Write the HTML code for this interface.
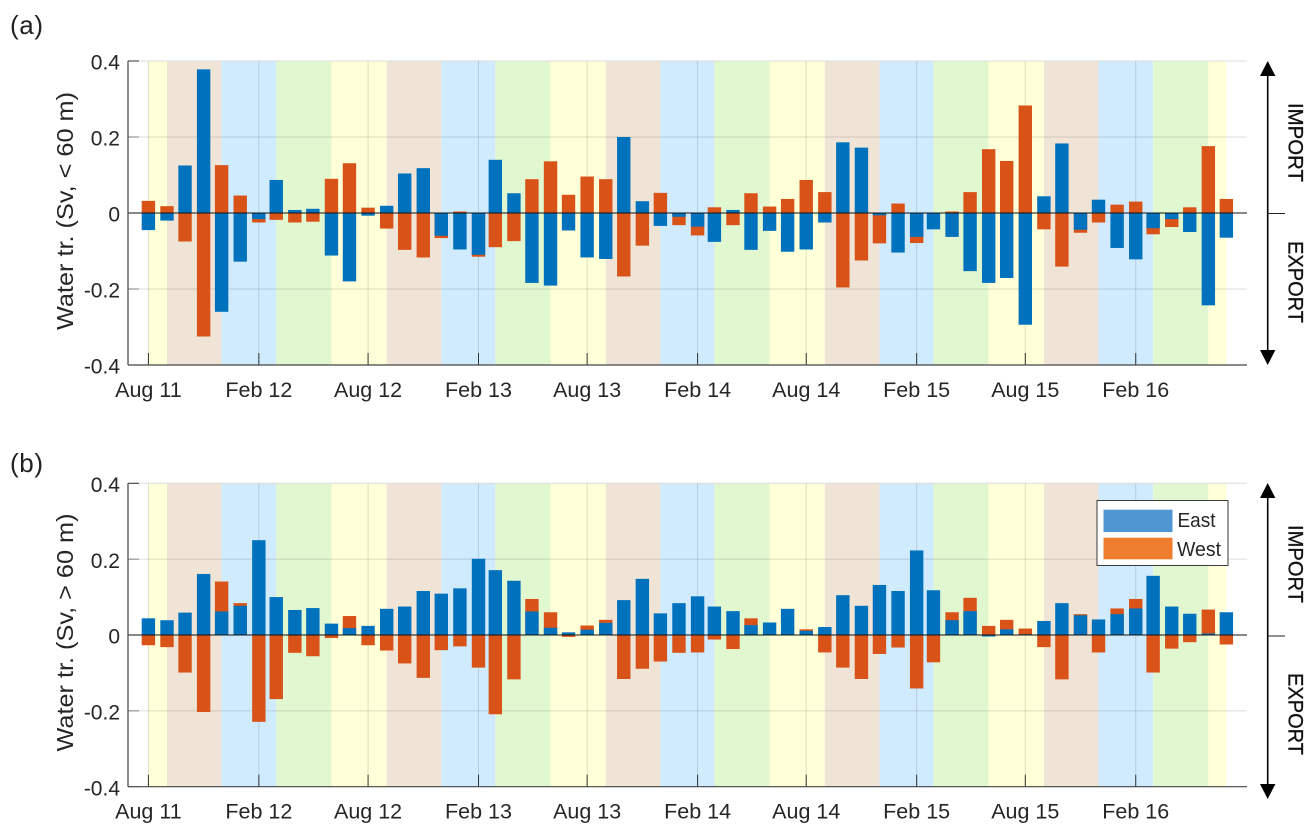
<!DOCTYPE html>
<html lang="en">
<head>
<meta charset="utf-8">
<title>Water transport, east and west</title>
<style>
html,body{margin:0;padding:0;background:#fff;}
svg{display:block;font-family:"Liberation Sans",sans-serif;}
text{fill:#262626;}
.tick{font-size:21px;}
.xtick{font-size:21.5px;}
.ytitle{font-size:23px;}
.side{font-size:21px;fill:#111;stroke:#111;stroke-width:.3px;}
.panel-tag{font-size:26px;fill:#222;}
.s-summer{fill:#FFFFD8;}
.s-autumn{fill:#EFE4D6;}
.s-winter{fill:#D0EAFE;}
.s-spring{fill:#E1F7CF;}
.east{fill:#0072BD;}
.west{fill:#D95319;}
</style>
</head>
<body>
<svg id="figure" xmlns="http://www.w3.org/2000/svg" width="1316" height="837" viewBox="0 0 1316 837">
  <rect x="0" y="0" width="1316" height="837" fill="#fff"/>

  <g id="panel-a"></g>
  <g id="panel-b"></g>

  <text class="panel-tag" x="10" y="34" textLength="33">(a)</text>
  <text class="panel-tag" x="10" y="472" textLength="33">(b)</text>

  <text class="ytitle" transform="translate(73,211) rotate(-90)" text-anchor="middle" textLength="238" lengthAdjust="spacingAndGlyphs">Water tr. (Sv, &lt; 60 m)</text>
  <text class="ytitle" transform="translate(73,632.5) rotate(-90)" text-anchor="middle" textLength="238" lengthAdjust="spacingAndGlyphs">Water tr. (Sv, &gt; 60 m)</text>

  <g>
    <line x1="1267.7" y1="70" x2="1267.7" y2="356" stroke="#000" stroke-width="1.6"/>
    <polygon points="1267.7,61 1260,76 1275.4,76" fill="#000"/>
    <polygon points="1267.7,365 1260,350 1275.4,350" fill="#000"/>
    <line x1="1267.7" y1="213.5" x2="1285" y2="213.5" stroke="#222" stroke-width="1"/>
    <text class="side" transform="translate(1288.5,103) rotate(90)" textLength="79" lengthAdjust="spacingAndGlyphs">IMPORT</text>
    <text class="side" transform="translate(1288.5,241) rotate(90)" textLength="82" lengthAdjust="spacingAndGlyphs">EXPORT</text>
  </g>

  <g>
    <line x1="1267.7" y1="492" x2="1267.7" y2="790" stroke="#000" stroke-width="1.6"/>
    <polygon points="1267.7,483 1260,498 1275.4,498" fill="#000"/>
    <polygon points="1267.7,799 1260,784 1275.4,784" fill="#000"/>
    <line x1="1267.7" y1="636" x2="1285" y2="636" stroke="#222" stroke-width="1"/>
    <text class="side" transform="translate(1288.5,525) rotate(90)" textLength="78" lengthAdjust="spacingAndGlyphs">IMPORT</text>
    <text class="side" transform="translate(1288.5,673) rotate(90)" textLength="82" lengthAdjust="spacingAndGlyphs">EXPORT</text>
  </g>

  <g>
    <rect x="1097" y="500.5" width="131" height="65" fill="#fff" stroke="#3a3a3a" stroke-width="1"/>
    <rect x="1103.5" y="509.7" width="69" height="22.3" fill="#4F97D3"/>
    <text x="1177.5" y="527" style="font-size:20.5px" textLength="38" lengthAdjust="spacingAndGlyphs">East</text>
    <rect x="1103.5" y="537.7" width="69" height="21.6" fill="#EF7D2E"/>
    <text x="1177" y="556" style="font-size:20.5px" textLength="44" lengthAdjust="spacingAndGlyphs">West</text>
  </g>
</svg>

<script>
const categories = [
  '2011-08','2011-09','2011-10','2011-11','2011-12','2012-01','2012-02','2012-03','2012-04','2012-05','2012-06','2012-07',
  '2012-08','2012-09','2012-10','2012-11','2012-12','2013-01','2013-02','2013-03','2013-04','2013-05','2013-06','2013-07',
  '2013-08','2013-09','2013-10','2013-11','2013-12','2014-01','2014-02','2014-03','2014-04','2014-05','2014-06','2014-07',
  '2014-08','2014-09','2014-10','2014-11','2014-12','2015-01','2015-02','2015-03','2015-04','2015-05','2015-06','2015-07',
  '2015-08','2015-09','2015-10','2015-11','2015-12','2016-01','2016-02','2016-03','2016-04','2016-05','2016-06','2016-07'
];
const eastShallow = [
  -0.045,-0.020,0.125,0.378,-0.260,-0.128,-0.016,0.087,0.008,0.011,-0.112,-0.180,
  -0.007,0.019,0.104,0.118,-0.060,-0.096,-0.110,0.140,0.052,-0.184,-0.191,-0.046,
  -0.117,-0.121,0.200,0.031,-0.034,-0.010,-0.036,-0.076,0.008,-0.097,-0.047,-0.102,
  -0.096,-0.025,0.186,0.172,-0.006,-0.104,-0.063,-0.043,-0.063,-0.153,-0.184,-0.171,
  -0.294,0.044,0.183,-0.044,0.035,-0.092,-0.122,-0.040,-0.016,-0.050,-0.243,-0.065
];
const westShallow = [
  0.032,0.018,-0.075,-0.325,0.126,0.046,-0.025,-0.018,-0.025,-0.023,0.090,0.131,
  0.014,-0.041,-0.097,-0.117,-0.066,0.004,-0.115,-0.090,-0.074,0.089,0.136,0.048,
  0.096,0.089,-0.167,-0.086,0.053,-0.032,-0.059,0.015,-0.032,0.052,0.017,0.037,
  0.087,0.055,-0.196,-0.125,-0.080,0.025,-0.079,0,0.004,0.055,0.168,0.137,
  0.283,-0.043,-0.141,-0.052,-0.025,0.022,0.030,-0.056,-0.037,0.015,0.176,0.037
];
const eastDeep = [
  0.044,0.039,0.059,0.161,0.062,0.077,0.250,0.100,0.066,0.071,0.030,0.018,
  0.024,0.069,0.075,0.116,0.109,0.123,0.201,0.171,0.143,0.062,0.019,0.007,
  0.014,0.032,0.092,0.148,0.057,0.084,0.102,0.075,0.063,0.026,0.033,0.069,
  0.011,0.021,0.105,0.077,0.132,0.116,0.223,0.118,0.039,0.063,-0.004,0.015,
  0.002,0.037,0.084,0.052,0.041,0.055,0.070,0.156,0.075,0.056,0.004,0.060
];
const westDeep = [
  -0.027,-0.032,-0.099,-0.203,0.141,0.084,-0.229,-0.169,-0.047,-0.056,-0.008,0.050,
  -0.027,-0.041,-0.075,-0.113,-0.040,-0.030,-0.086,-0.209,-0.117,0.095,0.060,-0.005,
  0.025,0.040,-0.116,-0.089,-0.070,-0.047,-0.046,-0.012,-0.037,0.044,0,0,
  0.015,-0.046,-0.086,-0.116,-0.050,-0.033,-0.141,-0.072,0.060,0.098,0.024,0.040,
  0.017,-0.032,-0.117,0.055,-0.046,0.070,0.095,-0.099,-0.036,-0.019,0.067,-0.025
];
const seasonEdges = [
  '2011-08','2011-09','2011-12','2012-03','2012-06','2012-09','2012-12','2013-03','2013-06','2013-09','2013-12',
  '2014-03','2014-06','2014-09','2014-12','2015-03','2015-06','2015-09','2015-12','2016-03','2016-06','2016-07'
];
const seasonKinds = [
  'summer','autumn','winter','spring','summer','autumn','winter','spring','summer','autumn','winter',
  'spring','summer','autumn','winter','spring','summer','autumn','winter','spring','summer'
];
const xTickDates = ['2011-08','2012-02','2012-08','2013-02','2013-08','2014-02','2014-08','2015-02','2015-08','2016-02'];
const xTickLabels = ['Aug 11','Feb 12','Aug 12','Feb 13','Aug 13','Feb 14','Aug 14','Feb 15','Aug 15','Feb 16'];
const yTickValues = [0.4,0.2,0,-0.2,-0.4];
const yTickLabels = ['0.4','0.2','0','-0.2','-0.4'];

const NS = 'http://www.w3.org/2000/svg';
const DAY = 86400000;
const PLOT_LEFT = 128;
const PLOT_RIGHT = 1247;
const BAR_W = 13.4;
const ORIGIN_X = 148.4;
const PX_PER_DAY = 0.6002;

function xOf(month) {
  const parts = month.split('-');
  const days = (Date.UTC(+parts[0], +parts[1] - 1, 1) - Date.UTC(2011, 7, 1)) / DAY;
  return ORIGIN_X + days * PX_PER_DAY;
}
function yScale(top, bottom) {
  return function (v) { return top + (0.4 - v) / 0.8 * (bottom - top); };
}
function make(tag, attrs, parent) {
  const el = document.createElementNS(NS, tag);
  for (const k in attrs) el.setAttribute(k, attrs[k]);
  parent.appendChild(el);
  return el;
}

function drawPanel(id, top, bottom, east, west) {
  const g = document.getElementById(id);
  const y = yScale(top, bottom);

  seasonKinds.forEach(function (kind, i) {
    const x0 = xOf(seasonEdges[i]);
    const x1 = xOf(seasonEdges[i + 1]);
    const r = make('rect', { x: x0, y: top, width: x1 - x0, height: bottom - top, 'class': 's-' + kind }, g);
    
    
  });

  const topEdge = make('line', { x1: PLOT_LEFT, x2: PLOT_RIGHT, y1: top, y2: top, stroke: '#ddd', 'stroke-width': 1 }, g);
  
  

  yTickValues.forEach(function (v, i) {
    if (v === 0.2 || v === -0.2) {
      const gl = make('line', { x1: PLOT_LEFT, x2: PLOT_RIGHT, y1: y(v), y2: y(v), stroke: '#000', 'stroke-opacity': 0.13, 'stroke-width': 1 }, g);
      
      
    }
    const tk = make('line', { x1: PLOT_LEFT, x2: PLOT_LEFT + 11, y1: y(v), y2: y(v), stroke: '#333', 'stroke-opacity': (v === 0.4 ? 1 : 0.55), 'stroke-width': 1 }, g);
    
    
    const t = make('text', { x: 120, y: y(v) + 8.6, 'text-anchor': 'end', 'class': 'tick' }, g);
    t.textContent = yTickLabels[i];
    
    
  });

  xTickDates.forEach(function (d, i) {
    const x = xOf(d);
    const gl = make('line', { x1: x, x2: x, y1: top, y2: bottom, stroke: '#000', 'stroke-opacity': 0.13, 'stroke-width': 1 }, g);
    
    
    const tk = make('line', { x1: x, x2: x, y1: bottom - 12, y2: bottom, stroke: '#333', 'stroke-width': 1 }, g);
    
    
    const t = make('text', { x: x, y: bottom + 32, 'text-anchor': 'middle', 'class': 'xtick' }, g);
    t.textContent = xTickLabels[i];
    
    
  });

  const zero = y(0);
  categories.forEach(function (m, i) {
    const x = xOf(m) - BAR_W / 2;
    const wv = west[i];
    const w = make('rect', { x: x, y: Math.min(y(wv), zero), width: BAR_W, height: Math.abs(y(wv) - zero), 'class': 'west' }, g);
    
    
  });
  categories.forEach(function (m, i) {
    const x = xOf(m) - BAR_W / 2;
    const ev = east[i];
    const e = make('rect', { x: x, y: Math.min(y(ev), zero), width: BAR_W, height: Math.abs(y(ev) - zero), 'class': 'east' }, g);
    
    
  });

  const zl = make('line', { x1: PLOT_LEFT, x2: PLOT_RIGHT, y1: zero, y2: zero, stroke: '#111', 'stroke-width': 1.1 }, g);
  
  

  const ya = make('line', { x1: PLOT_LEFT, x2: PLOT_LEFT, y1: top, y2: bottom, stroke: '#444', 'stroke-width': 1.2 }, g);
  
  
  const xa = make('line', { x1: PLOT_LEFT, x2: PLOT_RIGHT, y1: bottom, y2: bottom, stroke: '#444', 'stroke-width': 1.2 }, g);
  
  
}

drawPanel('panel-a', 61, 365, eastShallow, westShallow);
drawPanel('panel-b', 483.3, 786.7, eastDeep, westDeep);
</script>
</body>
</html>
